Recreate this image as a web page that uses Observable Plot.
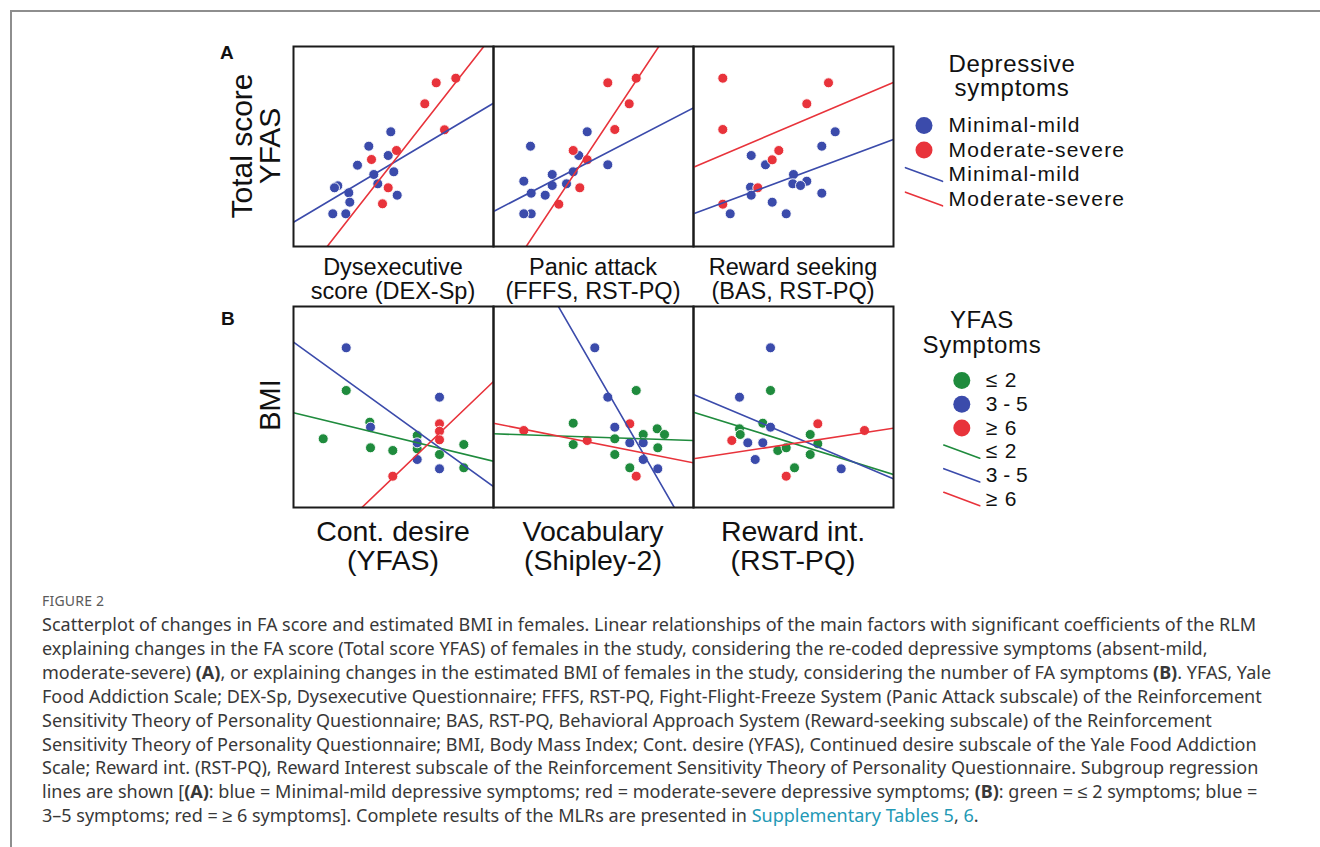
<!DOCTYPE html>
<html><head><meta charset="utf-8">
<script src="https://cdn.jsdelivr.net/npm/d3@7"></script>
<script src="https://cdn.jsdelivr.net/npm/@observablehq/plot@0.6"></script>
<style>
html,body{margin:0;padding:0;background:#fff;overflow:hidden;}
#page{position:relative;width:1320px;height:847px;overflow:hidden;font-family:"Liberation Sans",Arial,sans-serif;color:#111;}
#border{position:absolute;left:10px;top:10px;width:1340px;height:880px;border:2px solid #8e8e8e;box-sizing:border-box;}
.abs{position:absolute;white-space:nowrap;}
#caption{position:absolute;left:42px;top:613px;font-family:"Noto Sans",sans-serif;font-size:16.5px;line-height:23.9px;color:#383838;white-space:nowrap;}
#figlabel{position:absolute;left:42px;top:591px;font-family:"Noto Sans",sans-serif;font-size:14px;line-height:20px;color:#5a5a5a;letter-spacing:0.2px;}
.link{color:#2399b5;}
svg.plotpanel{position:absolute;background:transparent !important;overflow:visible;}
</style></head>
<body><div id="page"><div id="border"></div></div>
<script>
// ---------- data (arbitrary units; panels have no ticks: x 0–200, y 0–200) ----------
const groupsA = ["Minimal-mild", "Moderate-severe"];
const colorsA = ["#3b4bab", "#e8333b"];
const groupsB = ["≤ 2", "3-5", "≥ 6"];
const colorsB = ["#1f8b3d", "#3b4bab", "#e8333b"];
const legendBLabels = ["≤ 2", "3\u2009-\u20095", "≥ 6"];

const xLabelsA = [["Dysexecutive", "score (DEX-Sp)"], ["Panic attack", "(FFFS, RST-PQ)"], ["Reward seeking", "(BAS, RST-PQ)"]];
const xLabelsB = [["Cont. desire", "(YFAS)"], ["Vocabulary", "(Shipley-2)"], ["Reward int.", "(RST-PQ)"]];
const yLabelA = ["Total score", "YFAS"];
const yLabelB = ["BMI"];
const legendTitleA = ["Depressive", "symptoms"];
const legendTitleB = ["YFAS", "Symptoms"];

// Panel A (y = Total score YFAS)
const a1Minimal = [[97.3,114.7],[75.3,100.3],[94.7,91],[64,81.3],[80.3,72],[100.3,74.7],[84.3,62.7],[44.3,60.7],[41,58.7],[55.3,53.7],[103.7,51.3],[56.3,44.3],[39.3,32.7],[52.3,32.7]];
const a1Moderate = [[142.7,163.7],[162.3,168.3],[131.3,142.7],[151,116.7],[103,96],[78,87],[94.7,58.7],[89,42.7]];
const a2Minimal = [[93.7,114.7],[37,100.3],[85.3,91],[114.3,81.7],[58.7,72],[79.7,74.7],[30.3,65.3],[58.7,61],[73,62.7],[37.7,53.3],[51.7,51.3],[37.7,32.7],[30.3,32.7]];
const a2Moderate = [[114.3,163.7],[142.7,168.3],[135.7,142.7],[121.3,117],[79.7,96],[93.7,86.7],[86.3,58.7],[65.3,42.3]];
const a3Minimal = [[141.7,114.7],[128.3,100.3],[57.7,91],[72,81.7],[100,72],[113.3,65.3],[99.3,62.7],[107,61],[57,59.3],[57.7,51.3],[128.3,53.3],[78.7,44.3],[36.7,32.7],[92.7,32.7]];
const a3Moderate = [[29.3,168.3],[135,163.7],[113.3,142.7],[29.3,117],[85.3,96],[78.7,86.7],[64.3,58.7],[29.3,42.3]];
// fitted subgroup lines: [group, y at x=0, y at x=200]
const a1Fits = [["Minimal-mild", 24.3, 143.3], ["Moderate-severe", -43, 212.4]];
const a2Fits = [["Minimal-mild", 35, 138.7], ["Moderate-severe", -49.3, 252.3]];
const a3Fits = [["Minimal-mild", 32.7, 107], ["Moderate-severe", 79.3, 164]];

// Panel B (y = BMI)
const b1Low = [[52.7,117],[76.3,85.3],[29.7,68.7],[77,59.7],[99.3,57],[123.7,72],[123.7,58.7],[146,53],[170.3,63],[170.3,39.7]];
const b1Mid = [[52.7,159.7],[146,110.3],[77,80.3],[123.7,64.7],[123.7,48],[146,38.7]];
const b1High = [[146,83.7],[146,76.3],[146,67.7],[99.3,31.3]];
const b2Low = [[142.7,117],[79.7,84.3],[79.7,63],[121.3,68.7],[121.3,53],[136.3,39.7],[149.7,73],[163.7,78.7],[171,73],[164.3,59.7]];
const b2Mid = [[101.3,159.7],[114.3,110.3],[121.3,80.3],[136.3,64.7],[149.7,64.7],[149.7,48],[164.3,38.7]];
const b2High = [[30.3,77],[93.7,67],[136.3,83.7],[142.7,31.3]];
const b3Low = [[77,117],[69.3,84.3],[46,78.7],[46.7,73],[116.7,73],[124.3,63.7],[84.3,57],[92.7,59.7],[116.7,53],[101,39.7]];
const b3Mid = [[77,159.7],[46,110.3],[77,80.3],[54.3,64.7],[69.3,64.7],[61.7,48],[147.7,38.7]];
const b3High = [[38.3,67],[124.3,83.7],[171,77],[92.7,31.3]];
const b1Fits = [["≤ 2", 94.7, 46.3], ["3-5", 165.3, 21], ["≥ 6", -65.5, 126]];
const b2Fits = [["≤ 2", 73.7, 67], ["3-5", 313.5, -33.2], ["≥ 6", 84.3, 44.7]];
const b3Fits = [["≤ 2", 95.3, 33], ["3-5", 113, 28.7], ["≥ 6", 48.7, 79.3]];
const xExtent = [0, 200];

// ---------- layout ----------
const page = document.getElementById("page");
const FONT = '"Liberation Sans", Arial, sans-serif';
const panelLefts = [293, 493, 693];
const panelW = 200;
const rowA = {top: 46, h: 200};
const rowB = {top: 306, h: 201};

function toRows(sets, groups) {
  return sets.flatMap((pts, i) => pts.map(([x, y]) => ({x, y, group: groups[i]})));
}
function fitRows(fits) {
  return fits.flatMap(([g, y0, y1]) => [{group: g, x: xExtent[0], y: y0}, {group: g, x: xExtent[1], y: y1}]);
}
function panel(sets, fits, groups, colors, left, row) {
  const chart = Plot.plot({
    width: panelW + 2, height: row.h + 2, margin: 1,
    x: {domain: xExtent, axis: null},
    y: {domain: [0, row.h], axis: null},
    color: {domain: groups, range: colors},
    marks: [
      Plot.dot(toRows(sets, groups), {x: "x", y: "y", fill: "group", r: 5, stroke: "white", strokeWidth: 0.9}),
      Plot.line(fitRows(fits), {x: "x", y: "y", z: "group", stroke: "group", strokeWidth: 1.6, clip: true}),
      Plot.frame({stroke: "#1b1b1b", strokeWidth: 2})
    ]
  });
  chart.classList.add("plotpanel");
  chart.style.left = (left - 1) + "px";
  chart.style.top = (row.top - 1) + "px";
  page.appendChild(chart);
}

panel([a1Minimal, a1Moderate], a1Fits, groupsA, colorsA, panelLefts[0], rowA);
panel([a2Minimal, a2Moderate], a2Fits, groupsA, colorsA, panelLefts[1], rowA);
panel([a3Minimal, a3Moderate], a3Fits, groupsA, colorsA, panelLefts[2], rowA);
panel([b1Low, b1Mid, b1High], b1Fits, groupsB, colorsB, panelLefts[0], rowB);
panel([b2Low, b2Mid, b2High], b2Fits, groupsB, colorsB, panelLefts[1], rowB);
panel([b3Low, b3Mid, b3High], b3Fits, groupsB, colorsB, panelLefts[2], rowB);

// ---------- text helpers ----------
function label(text, x, baseline, size, opts = {}) {
  const d = document.createElement("div");
  d.className = "abs";
  d.textContent = text;
  d.style.fontSize = size + "px";
  d.style.lineHeight = size + "px";
  d.style.fontFamily = FONT;
  if (opts.weight) d.style.fontWeight = opts.weight;
  if (opts.spacing) d.style.letterSpacing = opts.spacing + "px";
  if (opts.rotate) {
    d.style.left = (baseline - 0.3465 * size) + "px";
    d.style.top = x + "px";
    d.style.transform = "translate(-50%,-50%) rotate(-90deg)";
  } else {
    d.style.left = x + "px";
    d.style.top = (baseline - 0.8465 * size) + "px";
    if (opts.anchor === "middle") d.style.transform = "translateX(-50%)";
  }
  page.appendChild(d);
}

label("A", 220, 59.5, 19, {weight: "bold"});
label("B", 221, 325, 19, {weight: "bold"});
label(yLabelA[0], 146, 252, 30, {rotate: true});
label(yLabelA[1], 146, 280, 30, {rotate: true});
label(yLabelB[0], 405, 280, 29, {rotate: true});

xLabelsA.forEach(([l1, l2], i) => {
  const cx = panelLefts[i] + panelW / 2;
  label(l1, cx, 276, 23.5, {anchor: "middle"});
  label(l2, cx, 300, 23.5, {anchor: "middle"});
});
xLabelsB.forEach(([l1, l2], i) => {
  const cx = panelLefts[i] + panelW / 2;
  label(l1, cx, 541, 28.5, {anchor: "middle"});
  label(l2, cx, 570, 28.5, {anchor: "middle"});
});

label(legendTitleA[0], 1012, 72, 24, {anchor: "middle", spacing: 0.7});
label(legendTitleA[1], 1012, 96.5, 24, {anchor: "middle", spacing: 0.7});
label(legendTitleB[0], 982, 328, 24, {anchor: "middle", spacing: 0.7});
label(legendTitleB[1], 982, 353, 24, {anchor: "middle", spacing: 0.7});

// ---------- legends ----------
function legend(groups, colors, texts, left, top, w, h, xRange, yRange, fontSize, spacing) {
  const n = groups.length;
  const dots = groups.map((g, i) => ({g, i}));
  const lines = groups.flatMap((g, i) => [{g, i: i + n, x: 0, y: i + n - 0.28}, {g, i: i + n, x: 1, y: i + n + 0.28}]);
  const labels = [...texts.map((t, i) => ({t, i})), ...texts.map((t, i) => ({t, i: i + n}))];
  const chart = Plot.plot({
    width: w, height: h, margin: 0,
    x: {domain: [0, 1], range: xRange, axis: null},
    y: {domain: [0, 2 * n - 1], range: yRange, axis: null},
    color: {domain: groups, range: colors},
    style: {letterSpacing: spacing + "px", background: "transparent", overflow: "visible"},
    marks: [
      Plot.dot(dots, {x: () => 0.5, y: "i", fill: "g", r: 8.5}),
      Plot.line(lines, {x: "x", y: "y", z: "g", stroke: "g", strokeWidth: 1.6}),
      Plot.text(labels, {x: () => 1, y: "i", text: "t", dx: 6, textAnchor: "start", fontSize, fontFamily: FONT, fill: "#111"})
    ]
  });
  chart.classList.add("plotpanel");
  chart.style.left = left + "px";
  chart.style.top = top + "px";
  page.appendChild(chart);
}
legend(groupsA, colorsA, groupsA, 895, 100, 240, 115, [10, 47], [25, 98.5], 21, 1.2);
legend(groupsB, colorsB, legendBLabels, 935, 360, 160, 160, [8.3, 44.3], [20, 138.5], 21, 0.8);

// ---------- caption ----------
const fig = document.createElement("div");
fig.id = "figlabel";
fig.textContent = "FIGURE 2";
page.appendChild(fig);
const cap = document.createElement("div");
cap.id = "caption";
cap.innerHTML = [
  '<span id="l1">Scatterplot of changes in FA score and estimated BMI in females. Linear relationships of the main factors with significant coefficients of the RLM</span>',
  'explaining changes in the FA score (Total score YFAS) of females in the study, considering the re-coded depressive symptoms (absent-mild,',
  'moderate-severe) <b>(A)</b>, or explaining changes in the estimated BMI of females in the study, considering the number of FA symptoms <b>(B)</b>. YFAS, Yale',
  'Food Addiction Scale; DEX-Sp, Dysexecutive Questionnaire; FFFS, RST-PQ, Fight-Flight-Freeze System (Panic Attack subscale) of the Reinforcement',
  'Sensitivity Theory of Personality Questionnaire; BAS, RST-PQ, Behavioral Approach System (Reward-seeking subscale) of the Reinforcement',
  'Sensitivity Theory of Personality Questionnaire; BMI, Body Mass Index; Cont. desire (YFAS), Continued desire subscale of the Yale Food Addiction',
  'Scale; Reward int. (RST-PQ), Reward Interest subscale of the Reinforcement Sensitivity Theory of Personality Questionnaire. Subgroup regression',
  'lines are shown [<b>(A)</b>: blue = Minimal-mild depressive symptoms; red = moderate-severe depressive symptoms; <b>(B)</b>: green = ≤ 2 symptoms; blue =',
  '3–5 symptoms; red = ≥ 6 symptoms]. Complete results of the MLRs are presented in <span class="link">Supplementary Tables 5</span>, <span class="link">6</span>.'
].join("<br>");
page.appendChild(cap);
// fit caption font so that the first line spans the same width as the reference
const w1 = document.getElementById("l1").getBoundingClientRect().width;
const fs = 16.5 * 1215 / w1;
cap.style.fontSize = fs.toFixed(2) + "px";
</script>
</body></html>
